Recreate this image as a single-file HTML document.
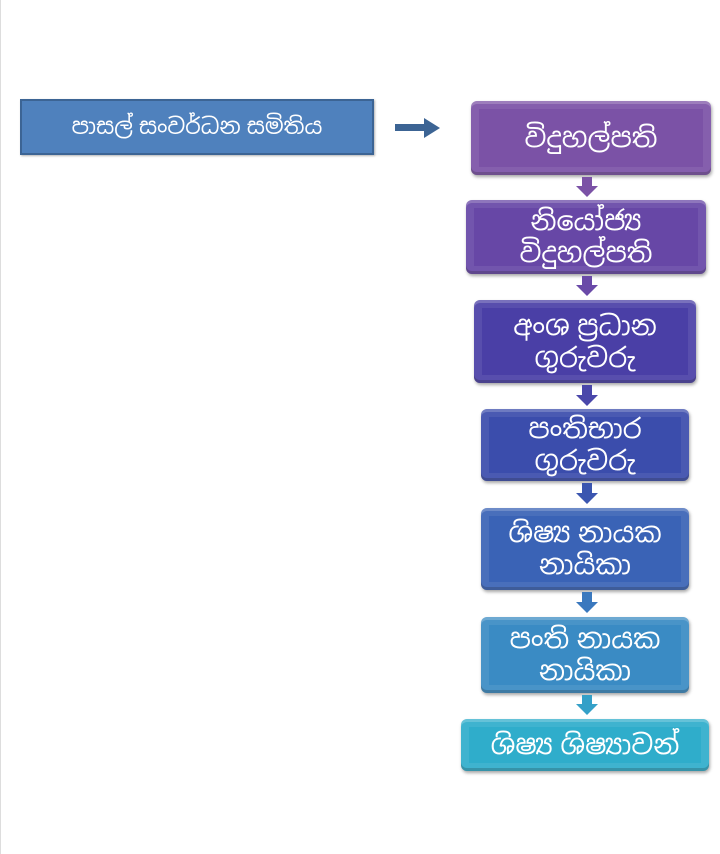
<!DOCTYPE html>
<html><head><meta charset="utf-8"><style>
body{margin:0;width:720px;height:854px;background:#fff;position:relative;overflow:hidden;font-family:"Liberation Sans","Noto Sans Sinhala","Iskoola Pota",sans-serif}
.b{position:absolute;border-radius:6px;color:#fff;display:flex;align-items:center;justify-content:center;text-align:center;font-size:27px;line-height:32px;box-shadow:1px 2px 3px rgba(0,0,0,.35),inset 0 0 0 8px rgba(255,255,255,.08),inset 0 3px 0 rgba(255,255,255,.2),inset 0 -3px 0 rgba(0,0,0,.2)}
.a{position:absolute;width:0;height:0}
</style></head><body>
<div style="position:absolute;left:0;top:0;width:1px;height:854px;background:#ddd"></div>
<div style="position:absolute;left:20px;top:99px;width:350px;height:52px;background:#4f81bd;border:2px solid #3c6494;color:#fff;font-size:22px;display:flex;align-items:center;justify-content:center;box-shadow:1px 1px 2px rgba(0,0,0,.3)">පාසල් සංවර්ධන සමිතිය</div>
<div style="position:absolute;left:395px;top:124px;width:30px;height:7px;background:#3c6494"></div>
<div class="a" style="left:424px;top:118px;border-left:16px solid #3c6494;border-top:10px solid transparent;border-bottom:10px solid transparent"></div>

<div class="b" style="left:471px;top:101px;width:240px;height:74px;background:#7b52a6">විදුහල්පති</div>
<div class="b" style="left:466px;top:200px;width:240px;height:74px;background:#6747a6">නියෝජ්‍ය<br>විදුහල්පති</div>
<div class="b" style="left:474px;top:300px;width:222px;height:83px;background:#4a3fa6">අංශ ප්‍රධාන<br>ගුරුවරු</div>
<div class="b" style="left:481px;top:409px;width:208px;height:72px;background:#3b4dac">පංතිභාර<br>ගුරුවරු</div>
<div class="b" style="left:481px;top:508px;width:208px;height:82px;background:#3a63b6">ශිෂ්‍ය නායක<br>නායිකා</div>
<div class="b" style="left:481px;top:617px;width:208px;height:76px;background:#3a8bc4">පංති නායක<br>නායිකා</div>
<div class="b" style="left:461px;top:719px;width:248px;height:52px;background:#2fadcb">ශිෂ්‍ය ශිෂ්‍යාවන්</div>

<svg width="720" height="854" style="position:absolute;left:0;top:0">
<path d="M582 177h10v9h6l-11 11-11-11h6z" fill="#7b52a6"/>
<path d="M582 276h10v9h6l-11 11-11-11h6z" fill="#6a4aa8"/>
<path d="M582 385h10v10h6l-11 11-11-11h6z" fill="#4a47aa"/>
<path d="M582 483h10v10h6l-11 11-11-11h6z" fill="#3b56b0"/>
<path d="M582 592h10v10h6l-11 11-11-11h6z" fill="#3a78be"/>
<path d="M582 695h10v9h6l-11 11-11-11h6z" fill="#34a0c8"/>
</svg>
</body></html>
